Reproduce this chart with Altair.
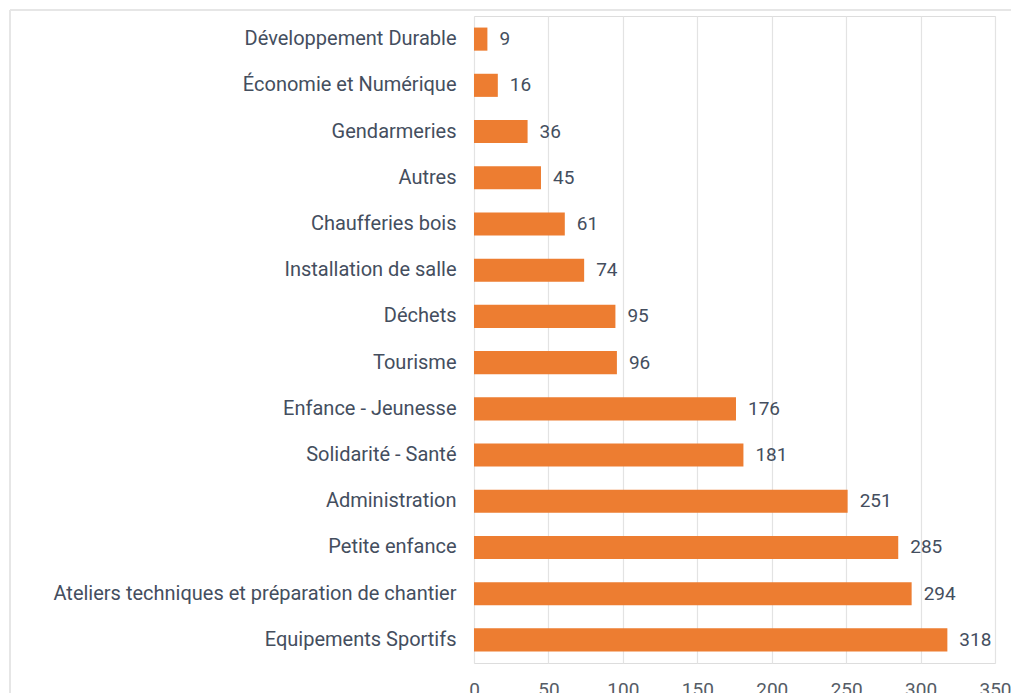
import altair as alt
import pandas as pd

categories = [
    "Développement Durable",
    "Économie et Numérique",
    "Gendarmeries",
    "Autres",
    "Chaufferies bois",
    "Installation de salle",
    "Déchets",
    "Tourisme",
    "Enfance - Jeunesse",
    "Solidarité - Santé",
    "Administration",
    "Petite enfance",
    "Ateliers techniques et préparation de chantier",
    "Equipements Sportifs",
]
values = [9, 16, 36, 45, 61, 74, 95, 96, 176, 181, 251, 285, 294, 318]
x_ticks = [0, 50, 100, 150, 200, 250, 300, 350]

df = pd.DataFrame({"cat": categories, "val": values})

FONT = "Roboto"
LABEL_COLOR = "#444e5e"

y_enc = alt.Y("cat:N", sort=categories, title=None,
              scale=alt.Scale(paddingInner=0.5, paddingOuter=0.25),
              axis=alt.Axis(labelFontSize=20, labelColor=LABEL_COLOR, labelFont=FONT,
                            ticks=False, domain=False, labelPadding=18, labelLimit=700))
x_enc = alt.X("val:Q", title=None,
              scale=alt.Scale(domain=[0, 350], nice=False),
              axis=alt.Axis(values=x_ticks,
                            labelFontSize=19, labelColor="#555c66", labelFont=FONT,
                            ticks=False, domain=False, labelPadding=17,
                            gridColor="#e3e3e3", gridWidth=1.2, labelFlush=False))

base = alt.Chart(df)

bars = base.mark_bar(color="#ed7d31").encode(x=x_enc, y=y_enc)
texts = base.mark_text(align="left", baseline="middle", dx=12, fontSize=19,
                       font=FONT, color=LABEL_COLOR).encode(
    x="val:Q", y=alt.Y("cat:N", sort=categories), text="val:Q")

frame_top = base.mark_rule(color="#e6e6e6", strokeWidth=1.5).encode(
    x=alt.value(-464), x2=alt.value(600), y=alt.value(-6))
frame_left = base.mark_rule(color="#e6e6e6", strokeWidth=1.5).encode(
    x=alt.value(-464), y=alt.value(-6), y2=alt.value(700))

chart = alt.layer(frame_top, frame_left, bars, texts).properties(
    width=521, height=647,
    autosize=alt.AutoSizeParams(type="none"),
    padding={"left": 466, "top": 8, "right": 16, "bottom": 30},
).configure_view(stroke=None).configure(background="white")

chart.save("out.html", embed_options={"renderer": "svg", "actions": False})
